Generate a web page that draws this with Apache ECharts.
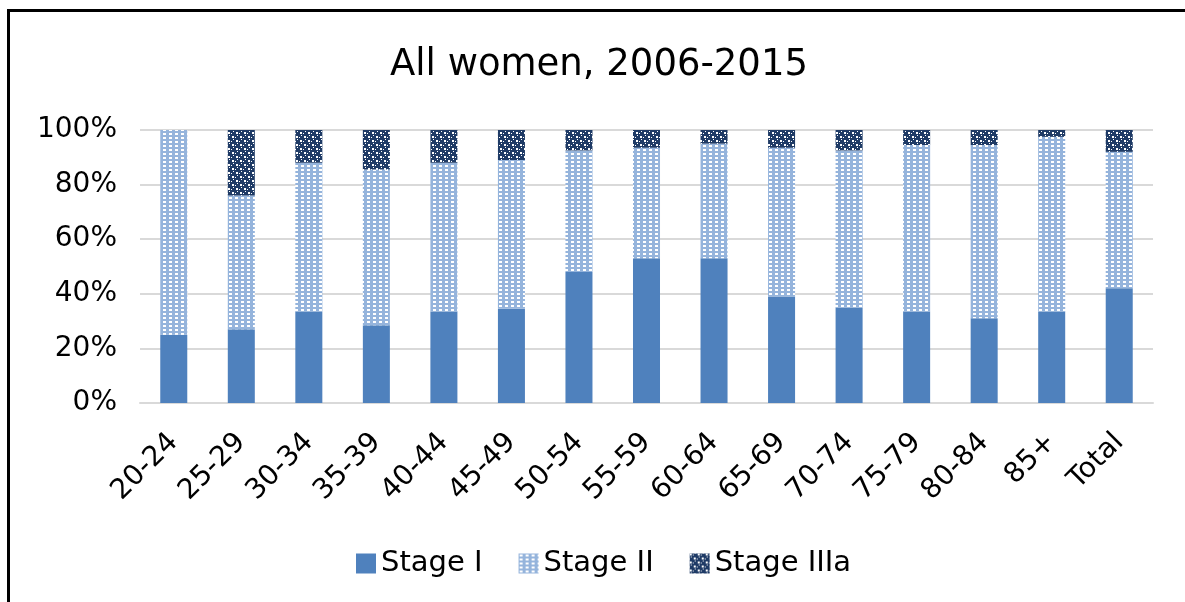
<!DOCTYPE html>
<html>
<head>
<meta charset="utf-8">
<title>All women, 2006-2015</title>
<script src="https://cdn.jsdelivr.net/npm/echarts@6/dist/echarts.min.js"></script>
<style>
  html, body { margin: 0; padding: 0; background: #ffffff; }
  #chart { width: 1185px; height: 602px; }
</style>
</head>
<body>
<div id="chart"></div>
<script>
// Age groups along the x axis
const ageGroups = ['20-24', '25-29', '30-34', '35-39', '40-44', '45-49', '50-54',
  '55-59', '60-64', '65-69', '70-74', '75-79', '80-84', '85+', 'Total'];

// Share of cases by stage at diagnosis (%)
const stageI    = [25, 27, 33.5, 28.5, 33.5, 34.5, 48, 53, 53, 39, 35, 33.5, 31, 33.5, 42];
const stageII   = [75, 49, 54.5, 57, 54.5, 54.5, 44.5, 40.5, 42, 54.5, 57.5, 61, 63.5, 64, 50];
const stageIIIa = [0, 24, 12, 14.5, 12, 11, 7.5, 6.5, 5, 6.5, 7.5, 5.5, 5.5, 2.5, 8];

// Percent ticks on the value axis
const yTicks = [0, 20, 40, 60, 80, 100];

const FONT = '"DejaVu Sans", Verdana, sans-serif';

// Small repeating tiles used as hatch fills
function makeTile(w, h, bg, fg, rects) {
  const c = document.createElement('canvas');
  c.width = w; c.height = h;
  const g = c.getContext('2d');
  g.fillStyle = bg;
  g.fillRect(0, 0, w, h);
  g.fillStyle = fg;
  rects.forEach(r => g.fillRect(r[0], r[1], r[2], r[3]));
  return c;
}

const dottedLight = makeTile(6, 4, '#95b4dc', '#ffffff', [[1, 1, 3, 2]]);
const checkDark = makeTile(8, 8, '#1f3b66', '#ffffff',
  [[0, 0, 2, 2], [4, 4, 2, 2], [3, 1, 1, 1], [7, 5, 1, 1], [1, 3, 1, 1], [5, 7, 1, 1]]);

const chart = echarts.init(document.getElementById('chart'), null, { renderer: 'canvas' });

chart.setOption({
  animation: false,
  backgroundColor: '#ffffff',
  title: {
    text: 'All women, 2006-2015',
    left: 385,
    top: 42,
    textStyle: { fontFamily: FONT, fontSize: 37, fontWeight: 'normal', color: '#000000' }
  },
  legend: {
    bottom: 19,
    left: 351,
    itemWidth: 20,
    itemHeight: 20,
    itemGap: 36,
    icon: 'rect',
    textStyle: { fontFamily: FONT, fontSize: 29, color: '#000000' },
    data: ['Stage I', 'Stage II', 'Stage IIIa']
  },
  grid: { left: 140, right: 32, top: 130, bottom: 199, containLabel: false },
  xAxis: {
    type: 'category',
    data: ageGroups,
    axisLine: { lineStyle: { color: '#d9d9d9', width: 2 } },
    axisTick: { show: false },
    axisLabel: {
      rotate: 45,
      margin: 35,
      fontFamily: FONT,
      fontSize: 28,
      color: '#000000',
      interval: 0
    }
  },
  yAxis: {
    type: 'value',
    min: yTicks[0],
    max: yTicks[yTicks.length - 1],
    interval: yTicks[1] - yTicks[0],
    axisLine: { show: false },
    axisTick: { show: false },
    splitLine: { lineStyle: { color: '#d9d9d9', width: 2 } },
    axisLabel: {
      formatter: '{value}%',
      margin: 23,
      fontFamily: FONT,
      fontSize: 28,
      color: '#000000'
    }
  },
  series: [
    {
      name: 'Stage I',
      type: 'bar',
      stack: 'stage',
      barWidth: '40%',
      itemStyle: { color: '#4f81bd' },
      data: stageI
    },
    {
      name: 'Stage II',
      type: 'bar',
      stack: 'stage',
      barWidth: '40%',
      itemStyle: { color: { image: dottedLight, repeat: 'repeat' } },
      data: stageII
    },
    {
      name: 'Stage IIIa',
      type: 'bar',
      stack: 'stage',
      barWidth: '40%',
      itemStyle: { color: { image: checkDark, repeat: 'repeat' } },
      data: stageIIIa
    }
  ],
  graphic: [
    {
      type: 'rect',
      silent: true,
      z: 100,
      shape: { x: 8.5, y: 10.5, width: 1200, height: 620 },
      style: { fill: 'none', stroke: '#000000', lineWidth: 3 }
    }
  ]
});
</script>
</body>
</html>
